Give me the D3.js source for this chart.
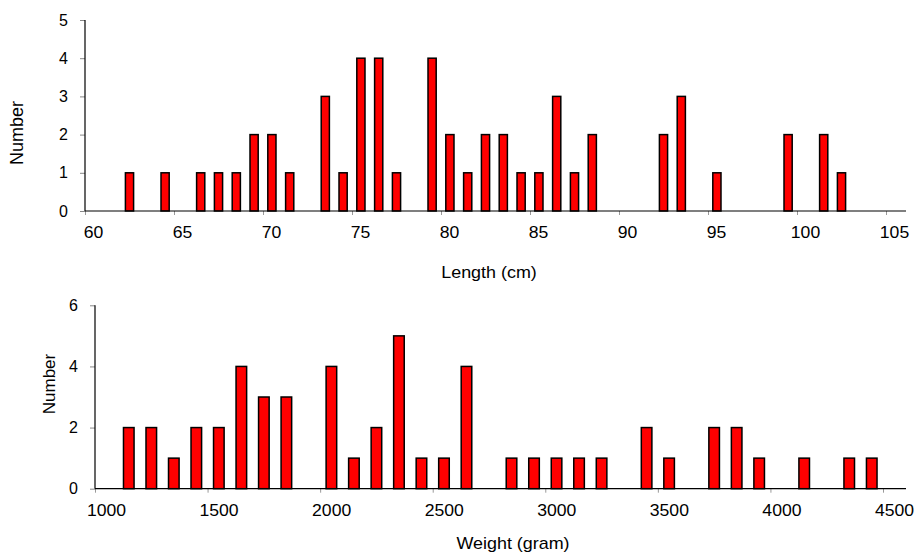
<!DOCTYPE html>
<html>
<head>
<meta charset="utf-8">
<script src="https://cdn.jsdelivr.net/npm/d3@7"></script>
<style>
  body { margin: 0; background: #fff; }
  text { font-family: "Liberation Sans", Arial, sans-serif; fill: #000; }
</style>
</head>
<body>
<svg id="chart" width="914" height="554"></svg>
<script>
// Length histogram (cm), bin width 1
const lengthBins   = [62,64,66,67,68,69,70,71,73,74,75,76,77,79,80,81,82,83,84,85,86,87,88,92,93,95,99,101,102];
const lengthCounts = [1, 1, 1, 1, 1, 2, 2, 1, 3, 1, 4, 4, 1, 4, 2, 1, 2, 2, 1, 1, 3, 1, 2, 2, 3, 1, 2, 2, 1];
const lengthXTicks = [60,65,70,75,80,85,90,95,100,105];
const lengthYTicks = [0,1,2,3,4,5];

// Weight histogram (gram), bin width 100
const weightBins   = [1100,1200,1300,1400,1500,1600,1700,1800,2000,2100,2200,2300,2400,2500,2600,2800,2900,3000,3100,3200,3400,3500,3700,3800,3900,4100,4300,4400];
const weightCounts = [2,   2,   1,   2,   2,   4,   3,   3,   4,   1,   2,   5,   1,   1,   4,   1,   1,   1,   1,   1,   2,   1,   2,   2,   1,   1,   1,   1];
const weightXTicks = [1000,1500,2000,2500,3000,3500,4000,4500];
const weightYTicks = [0,2,4,6];

const svg = d3.select("#chart");

function panel(cfg) {
  const g = svg.append("g");
  const x = d3.scaleLinear().domain(cfg.xDomain).range([cfg.left, cfg.right]);
  const y = d3.scaleLinear().domain(cfg.yDomain).range([cfg.bottom, cfg.top]);
  const data = cfg.bins.map((b, i) => ({ b, c: cfg.counts[i] }));

  // x axis ticks + labels
  const xAxis = d3.axisBottom(x).tickValues(cfg.xTicks).tickSize(4).tickPadding(11.5).tickFormat(d3.format("d"));
  const xa = g.append("g").attr("transform", `translate(0,${cfg.bottom})`).call(xAxis);
  xa.select(".domain").remove();
  xa.selectAll(".tick line").attr("stroke", "#999");
  xa.selectAll(".tick text").attr("font-size", 16).attr("fill", "#000")
    .attr("font-family", "Liberation Sans, Arial, sans-serif")
    .attr("transform", `translate(${cfg.labelShift},0) scale(1.1,1)`);

  // y axis ticks + labels
  const yAxis = d3.axisLeft(y).tickValues(cfg.yTicks).tickSize(5).tickPadding(12).tickFormat(d3.format("d"));
  const ya = g.append("g").attr("transform", `translate(${cfg.left},0)`).call(yAxis);
  ya.select(".domain").remove();
  ya.selectAll(".tick line").attr("stroke", "#888");
  ya.selectAll(".tick text").attr("font-size", 16).attr("fill", "#000")
    .attr("font-family", "Liberation Sans, Arial, sans-serif");

  // bars
  g.selectAll("rect.bar").data(data).enter().append("rect")
    .attr("class", "bar")
    .attr("x", d => x(d.b + cfg.bin * (0.5 - cfg.barFrac / 2)))
    .attr("width", d => x(d.b + cfg.bin * (0.5 + cfg.barFrac / 2)) - x(d.b + cfg.bin * (0.5 - cfg.barFrac / 2)))
    .attr("y", d => y(d.c))
    .attr("height", d => y(0) - y(d.c))
    .attr("fill", "#ff0000")
    .attr("stroke", "#000")
    .attr("stroke-width", 1.5);

  // axis lines
  g.append("line").attr("x1", cfg.left).attr("x2", cfg.axisEnd)
    .attr("y1", cfg.bottom).attr("y2", cfg.bottom).attr("stroke", "#000").attr("stroke-width", 1.2);
  g.append("line").attr("x1", cfg.left).attr("x2", cfg.left)
    .attr("y1", cfg.top).attr("y2", cfg.bottom).attr("stroke", "#000").attr("stroke-width", 1.2);

  // titles
  g.append("text").attr("transform", `translate(${cfg.xTitleX},${cfg.xTitleY}) scale(1.12,1)`)
    .attr("text-anchor", "middle").attr("font-size", 16).text(cfg.xTitle);
  g.append("text").attr("transform", `translate(${cfg.yTitleX},${cfg.yTitleY}) rotate(-90)`)
    .attr("text-anchor", "middle").attr("font-size", cfg.yTitleSize).text("Number");
}

panel({
  bins: lengthBins, counts: lengthCounts, bin: 1, barFrac: 0.46,
  xDomain: [60, 105], yDomain: [0, 5],
  left: 85, right: 886, axisEnd: 906, top: 20, bottom: 211,
  xTicks: lengthXTicks, yTicks: lengthYTicks, labelShift: 8,
  xTitle: "Length (cm)", xTitleX: 489, xTitleY: 278,
  yTitleX: 23, yTitleY: 133, yTitleSize: 18
});

panel({
  bins: weightBins, counts: weightCounts, bin: 100, barFrac: 0.47,
  xDomain: [1000, 4500], yDomain: [0, 6],
  left: 95, right: 883, axisEnd: 906, top: 305.3, bottom: 488.7,
  xTicks: weightXTicks, yTicks: weightYTicks, labelShift: 11,
  xTitle: "Weight (gram)", xTitleX: 513, xTitleY: 549,
  yTitleX: 55, yTitleY: 384, yTitleSize: 17
});
</script>
</body>
</html>
